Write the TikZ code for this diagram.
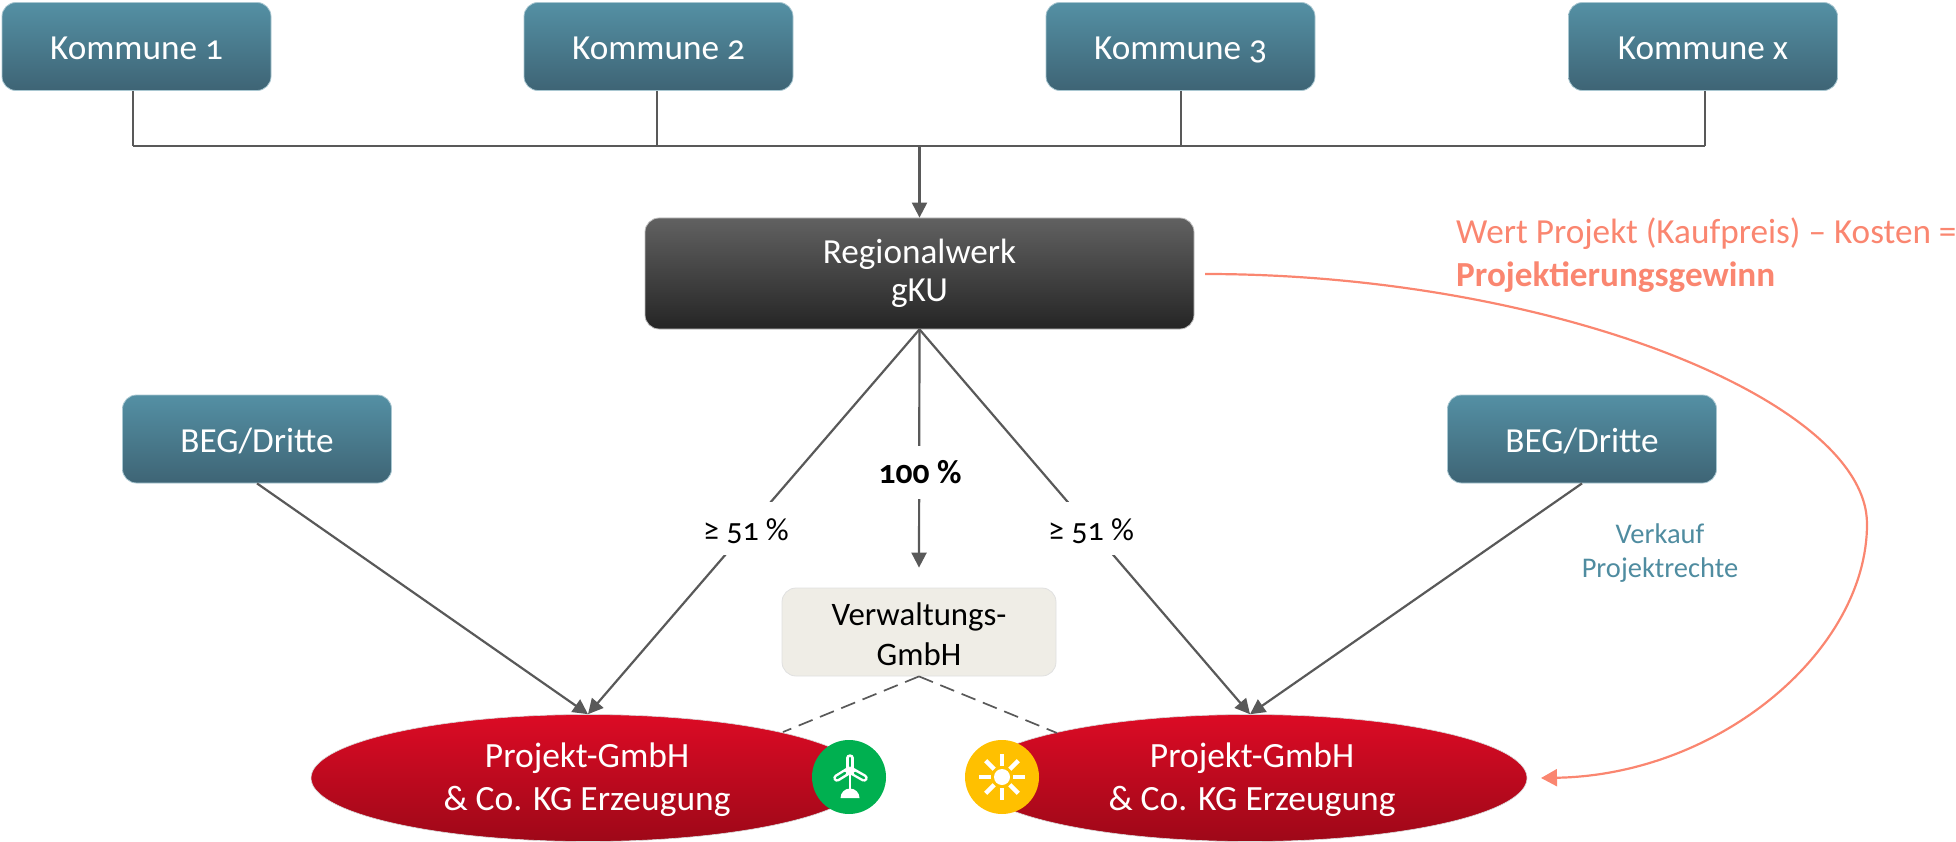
\documentclass[tikz,border=0pt]{standalone}
\usepackage{fontspec}
\setmainfont[Numbers=OldStyle]{Carlito}
\usetikzlibrary{arrows.meta,shapes.geometric,calc}
\definecolor{tealT}{HTML}{5490A4}
\definecolor{tealB}{HTML}{3E6475}
\definecolor{darkT}{HTML}{616161}
\definecolor{darkB}{HTML}{252525}
\definecolor{redT}{HTML}{DC0B25}
\definecolor{redB}{HTML}{9E0818}
\definecolor{linec}{HTML}{595959}
\definecolor{salmon}{HTML}{FA8670}
\definecolor{verk}{HTML}{4F8CA0}
\definecolor{beige}{HTML}{EFEDE6}
\definecolor{iconG}{HTML}{00B050}
\definecolor{iconY}{HTML}{FFC000}
\tikzset{
  x=1pt,y=-1pt,
  boxbase/.style={rounded corners=14pt,align=center,inner sep=0pt,text=white,
    font=\fontsize{35.2}{38}\selectfont},
  tealbox/.style={boxbase,draw=tealT!50!white,line width=0.8pt,top color=tealT,bottom color=tealB,
    minimum width=269pt,minimum height=88pt,text height=31pt,text depth=5pt},
  darkbox/.style={boxbase,draw=black!25,line width=0.8pt,top color=darkT,bottom color=darkB,
    minimum width=549pt,minimum height=111pt},
  beigebox/.style={boxbase,draw=black!12,line width=0.8pt,fill=beige,
    minimum width=274pt,minimum height=88pt},
  redell/.style={ellipse,draw=black!15,line width=0.6pt,inner sep=0pt,top color=redT,bottom color=redB,
    minimum width=554pt,minimum height=127pt},
  elltext/.style={align=center,text=white,inner sep=0pt,font=\fontsize{35.5}{43}\selectfont},
  conn/.style={draw=linec,line width=2.2pt},
  arr/.style={conn,-{Triangle[length=15pt,width=15pt]}},
  dashline/.style={draw=linec,line width=1.7pt,dash pattern=on 15pt off 8pt},
  pct/.style={fill=white,inner sep=0pt,font=\fontsize{32}{36}\selectfont,text=black,
    minimum height=53pt},
  salmontxt/.style={text=salmon,align=left,anchor=west,inner sep=0pt,
    font=\fontsize{35.2}{43}\selectfont},
}
\begin{document}
\begin{tikzpicture}
\useasboundingbox (0,0) rectangle (1956,842);
% boxes
\node[tealbox] (k1) at (136.5,46.5) {Kommune 1};
\node[tealbox] (k2) at (658.5,46.5) {Kommune 2};
\node[tealbox] (k3) at (1180.5,46.5) {Kommune 3};
\node[tealbox] (k4) at (1703,46.5) {Kommune x};
\node[darkbox] (reg) at (919.5,273.5) {Regionalwerk\\gKU};
\node[tealbox] (beg1) at (257,439) {BEG/Dritte};
\node[tealbox] (beg2) at (1582,439) {BEG/Dritte};
\node[beigebox] (verw) at (919,632) {};
\node[align=center,inner sep=0pt,text=black,font=\fontsize{32.8}{40}\selectfont] (verwt) at (919,634.5) {Verwaltungs-\\GmbH};
\node[redell] (projL) at (588,778) {};
\node[redell] (projR) at (1250,778) {};
\node[elltext] (projLt) at (587,780) {Projekt-GmbH\\\& Co. KG Erzeugung};
\node[elltext] (projRt) at (1252,780) {Projekt-GmbH\\\& Co. KG Erzeugung};
% bus
\coordinate (bus1) at (133,146);
\coordinate (bus2) at (657,146);
\coordinate (bus3) at (1181,146);
\coordinate (bus4) at (1705,146);
\coordinate (busM) at (919.5,146);
\draw[conn] (k1.south -| bus1) -- (bus1);
\draw[conn] (k2.south -| bus2) -- (bus2);
\draw[conn] (k3.south -| bus3) -- (bus3);
\draw[conn] (k4.south -| bus4) -- (bus4);
\draw[conn] (bus1) -- (bus4);
\draw[arr] (busM) -- (reg.north);
% shares
\draw[arr] (reg.south) -- (projL.north);
\draw[arr] (reg.south) -- (projR.north);
\draw[arr] (reg.south) -- ([yshift=20pt]verw.north);
\draw[arr] (beg1.south) -- (projL.north);
\draw[arr] (beg2.south) -- (projR.north);
\node[pct,minimum width=92pt,text height=30pt,text depth=6pt] (p1) at (746,528) {≥ 51 \%};
\node[pct,minimum width=92pt,text height=30pt,text depth=6pt] (p2) at (1091,528) {≥ 51 \%};
\node[pct,font=\fontsize{33.5}{36}\selectfont\bfseries,text height=28pt,text depth=6pt] (p3) at (920,472) {100 \%};
% dashed
\coordinate (dL) at (783,732);
\coordinate (dR) at (1057,733);
\draw[dashline] (verw.south) -- (dL);
\draw[dashline] (verw.south) -- (dR);
% curve
\coordinate (cs) at (1205,274);
\coordinate (cm) at (1867,524);
\coordinate (ce) at (1541,778);
\draw[draw=salmon,line width=2.2pt,-{Triangle[length=16pt,width=17pt]}]
  (cs) .. controls (1550,274) and (1867,400) .. (cm)
       .. controls (1867,650) and (1720,775) .. (ce);
% texts
\node[salmontxt] (t1) at (1456,255) {Wert Projekt (Kaufpreis) – Kosten =\\\textbf{Projektierungsgewinn}};
\node[text=verk,align=center,inner sep=0pt,font=\fontsize{28.5}{34}\selectfont] (t2) at (1660,553) {Verkauf\\Projektrechte};
% wind icon
\fill[iconG] (849,777) circle (37);
\draw[white,line width=7.5pt,line cap=round] (850,770) -- (850,758);
\draw[white,line width=7.5pt,line cap=round] (850,770) -- (837,778);
\draw[white,line width=7.5pt,line cap=round] (850,770) -- (864,778);
\draw[iconG,line width=2.5pt,line cap=round] (850,766) -- (850,758);
\draw[iconG,line width=2.5pt,line cap=round] (845,773) -- (837,778);
\draw[iconG,line width=2.5pt,line cap=round] (855,773) -- (864,778);
\draw[white,line width=2.5pt] (850,772) -- (850,790);
\fill[white] (840.5,798) arc[start angle=180,end angle=360,radius=9.5] -- cycle;
% sun icon
\fill[iconY] (1002,777) circle (37);
\fill[white] (1002,777) circle (8);
\foreach \a in {0,45,...,315}
  \draw[white,line width=4.5pt] ($(1002,777)+(\a:11)$) -- ($(1002,777)+(\a:23)$);
\end{tikzpicture}
\end{document}
